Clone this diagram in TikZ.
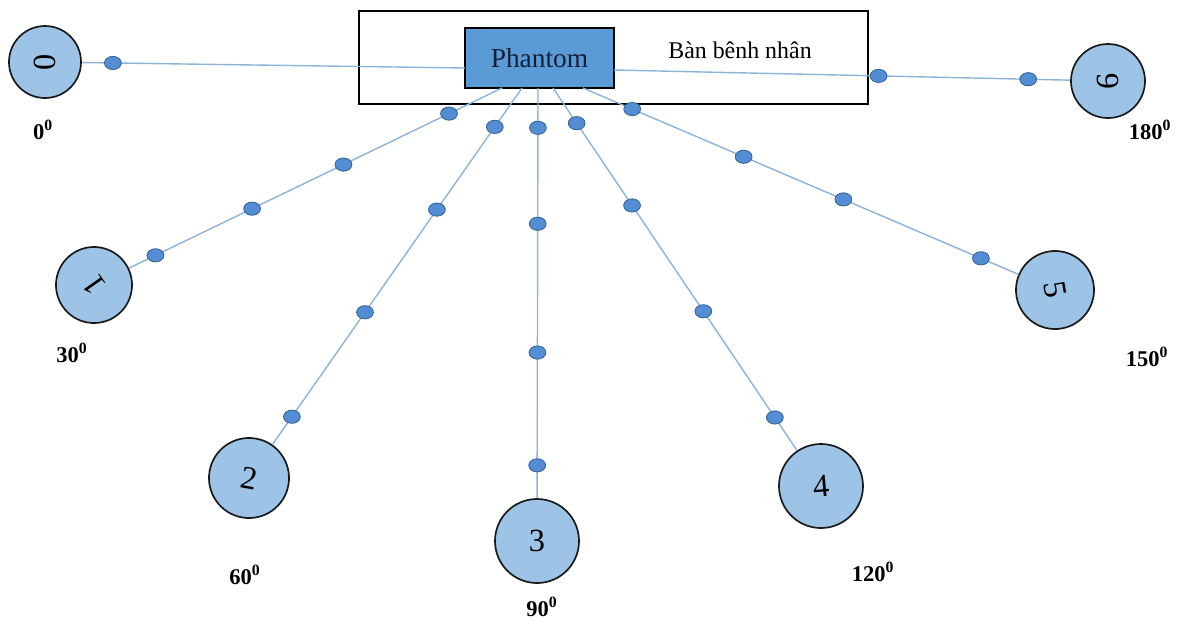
\documentclass[tikz,border=0pt]{standalone}
\usepackage{fontspec}
\setmainfont{Liberation Serif}
\usetikzlibrary{shapes.geometric}

\definecolor{phantomblue}{RGB}{91,155,213}
\definecolor{discblue}{RGB}{157,195,230}
\definecolor{raycol}{RGB}{141,179,215}
\definecolor{dotblue}{RGB}{84,141,212}
\definecolor{dotborder}{RGB}{55,100,145}
\definecolor{navy}{RGB}{20,30,60}

\tikzset{
    detector/.style={circle, draw=black!90, line width=1.2pt, fill=discblue, inner sep=0pt,
        minimum size=#1, font=\fontsize{23}{25}\selectfont},
    ray/.style={draw=raycol, line width=1pt},
    marker/.style={ellipse, draw=dotborder, line width=0.6pt, fill=dotblue,
        minimum width=0.42cm, minimum height=0.33cm, inner sep=0pt},
    anglelab/.style={font=\bfseries\fontsize{16}{18}\selectfont}
}

\begin{document}
\begin{tikzpicture}[x=0.025cm, y=-0.025cm]
        \useasboundingbox (0,0) rectangle (1179,621);

        %%%%%%%% Ban benh nhan %%%%%%%%
        \node[draw, line width=1.6pt, minimum width=12.725cm, minimum height=2.325cm] (table) at (613.5,57.5) {};
        \node[draw, line width=1.6pt, fill=phantomblue, text=navy, minimum width=3.725cm, minimum height=1.5cm,
            font=\fontsize{19.5}{22}\selectfont] (phantom) at (539.5,58) {Phantom};
        \node[font=\fontsize{17}{20}\selectfont] (ban) at (740,50) {Bàn bênh nhân};

        %%%%%%%%%% Dau do %%%%%%%%%%
        \node[detector=1.8cm, rotate=90] (d0) at (45,62) {0};
        \node[detector=1.9cm, rotate=125] (d1) at (94,285) {1};
        \node[detector=2.0cm, rotate=-10] (d2) at (249,478) {2};
        \node[detector=2.1cm] (d3) at (537,541) {3};
        \node[detector=2.1cm, rotate=5] (d4) at (821,486) {4};
        \node[detector=1.95cm, rotate=-80] (d5) at (1055,290) {5};
        \node[detector=1.85cm, rotate=90] (d6) at (1108,81) {6};

        %%%%%%%%%%% Tia %%%%%%%%%%%
        \coordinate (s0) at (465,68);
        \coordinate (s6) at (614,70);
        \foreach \i/\x in {1/502,2/522,3/538,4/553,5/583}
            \coordinate (s\i) at (\x,88);

        \foreach \i in {0,...,6}
            \draw[ray] (s\i) -- (d\i);

        \foreach \i/\plist in {0/{0.919}, 1/{0.142,0.425,0.670,0.929}, 2/{0.109,0.341,0.629,0.922},
                3/{0.097,0.331,0.645,0.920}, 4/{0.097,0.324,0.616,0.909}, 5/{0.113,0.369,0.598,0.914},
                6/{0.580,0.908}}
            \foreach \p [count=\k] in \plist
                \path (s\i) -- (d\i) node[marker, pos=\p] (m\i\k) {};

        %%%%%%%%%% Goc %%%%%%%%%%
        \node[anglelab] (a0) at (43,130) {0\textsuperscript{0}};
        \node[anglelab] (a1) at (72,353) {30\textsuperscript{0}};
        \node[anglelab] (a2) at (245,575) {60\textsuperscript{0}};
        \node[anglelab] (a3) at (542,607) {90\textsuperscript{0}};
        \node[anglelab] (a4) at (873,572) {120\textsuperscript{0}};
        \node[anglelab] (a5) at (1147,357) {150\textsuperscript{0}};
        \node[anglelab] (a6) at (1150,130) {180\textsuperscript{0}};
\end{tikzpicture}
\end{document}
